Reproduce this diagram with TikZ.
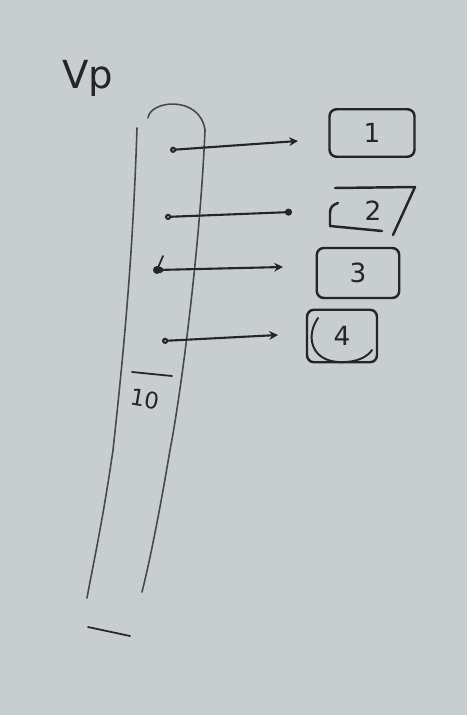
\documentclass[tikz,border=0pt]{standalone}
\usepackage{fontspec}
\setmainfont{DejaVu Sans}
\usetikzlibrary{arrows.meta}
\definecolor{paper}{RGB}{200,205,208}
\definecolor{ink}{RGB}{38,36,38}
\definecolor{pencil}{RGB}{70,72,76}
\tikzset{
  pen/.style={draw=ink, line width=1.4pt, line cap=round, line join=round},
  thinpen/.style={draw=pencil, line width=0.9pt, line cap=round},
  itembox/.style={pen, rounded corners=4pt, minimum width=1.7cm, minimum height=0.95cm, text=ink, font=\fontsize{15}{15}\selectfont},
  openbox/.style={minimum width=1.7cm, minimum height=0.95cm, text=ink, font=\fontsize{15}{15}\selectfont},
  link/.style={pen, line width=1.2pt, {Circle[open,length=3.5pt,width=3.5pt]}-{Stealth[length=5pt,width=5pt]}},
  linkdot/.style={pen, line width=1.2pt, {Circle[open,length=3.5pt,width=3.5pt]}-{Circle[length=4pt]}},
}
\begin{document}
\begin{tikzpicture}[x=0.02cm,y=-0.02cm]
\fill[paper] (0,0) rectangle (467,715);
\useasboundingbox (0,0) rectangle (467,715);

% label
\node[text=ink, font=\fontsize{22}{22}\selectfont] (vp) at (88,78) {Vp};

% long vertical bar
\draw[thinpen] (137,128) .. controls (133,250) and (125,340) .. (113,450) .. controls (103,520) and (92,570) .. (87,598);
\draw[thinpen] (148,118) .. controls (150,100) and (200,95) .. (205,130) .. controls (200,250) and (180,400) .. (170,450) .. controls (160,510) and (150,560) .. (142,592);
\draw[thinpen, draw=ink, line width=1pt] (132,372) -- (172,376);
\node[text=ink, font=\fontsize{13}{13}\selectfont, rotate=-10] (ten) at (145,399) {10};
\draw[thinpen, draw=ink, line width=1pt] (88,627) -- (130,636);

% boxes
\node[itembox] (b1) at (372,133) {1};
\node[openbox] (b2) at (373,211) {2};
\draw[pen] (335,188) -- (415,187) -- (393,235);
\draw[pen] (338,203) .. controls (332,205) and (330,208) .. (330,213) -- (330,226) -- (382,231);
\node[itembox, minimum width=1.65cm, minimum height=1.0cm] (b3) at (358,273) {3};
\node[itembox, minimum width=1.4cm, minimum height=1.05cm] (b4) at (342,336) {4};
\draw[pen, line width=1.1pt] (318,318) .. controls (306,335) and (310,360) .. (338,362) .. controls (358,363) and (368,356) .. (372,350);

% connectors
\coordinate (s1) at (170,150); \coordinate (e1) at (298,141);
\coordinate (s2) at (165,217); \coordinate (e2) at (292,212);
\coordinate (s3) at (157,270); \coordinate (e3) at (283,267);
\coordinate (s4) at (162,341); \coordinate (e4) at (278,335);
\draw[link] (s1) -- (e1);
\draw[linkdot] (s2) -- (e2);
\draw[link] (s3) -- (e3);
\fill[ink] (s3) circle (4);
\draw[pen, line width=1pt] (s3) -- (163,256);
\draw[link] (s4) -- (e4);
\end{tikzpicture}
\end{document}
